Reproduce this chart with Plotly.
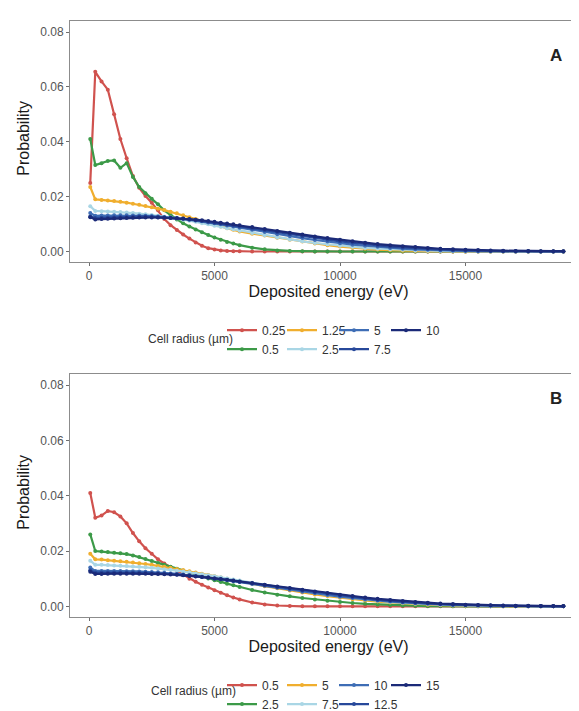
import plotly.graph_objects as go

# ---------------- data ----------------
ENERGY = [50, 250, 500, 750, 1000, 1250, 1500, 1750, 2000, 2250, 2500, 2750, 3000, 3250, 3500,
          3750, 4000, 4250, 4500, 4750, 5000, 5250, 5500, 5750, 6000, 6500, 7000, 7500, 8000,
          8500, 9000, 9500, 10000, 10500, 11000, 11500, 12000, 12500, 13000, 13500, 14000,
          14500, 15000, 15500, 16000, 16500, 17000, 17500, 18000, 18500, 18900]

RADII_A = ["0.25", "0.5", "1.25", "2.5", "5", "7.5", "10"]
RADII_B = ["0.5", "2.5", "5", "7.5", "10", "12.5", "15"]

A_025 = [0.0250, 0.0655, 0.0620, 0.0590, 0.0500, 0.0410, 0.0340, 0.0275, 0.0232, 0.0202,
         0.0178, 0.0150, 0.0118, 0.0096, 0.0078, 0.0062, 0.0047, 0.0033, 0.0021, 0.0012,
         0.0007, 0.0004, 0.0002, 0.0001, 0.0001, 0.0, 0.0, 0.0, 0.0, 0.0,
         0.0, 0.0, 0.0, 0.0, 0.0, 0.0, 0.0, 0.0, 0.0, 0.0,
         0.0, 0.0, 0.0, 0.0, 0.0, 0.0, 0.0, 0.0, 0.0, 0.0, 0.0]
A_05 = [0.0410, 0.0315, 0.0322, 0.0330, 0.0332, 0.0305, 0.0322, 0.0272, 0.0235, 0.0212,
        0.0192, 0.0172, 0.0150, 0.0133, 0.0117, 0.0103, 0.0091, 0.0080, 0.0070, 0.0060,
        0.0051, 0.0043, 0.0035, 0.0029, 0.0023, 0.0014, 0.0008, 0.0004, 0.0002, 0.0001,
        0.0, 0.0, 0.0, 0.0, 0.0, 0.0, 0.0, 0.0, 0.0, 0.0,
        0.0, 0.0, 0.0, 0.0, 0.0, 0.0, 0.0, 0.0, 0.0, 0.0, 0.0]
A_125 = [0.0235, 0.0190, 0.0188, 0.0186, 0.0184, 0.0181, 0.0178, 0.0174, 0.0170, 0.0166,
         0.0161, 0.0156, 0.0151, 0.0145, 0.0139, 0.0132, 0.0125, 0.0118, 0.0111, 0.0104,
         0.0097, 0.0091, 0.0085, 0.0079, 0.0073, 0.0065, 0.0058, 0.0050, 0.0043, 0.0036,
         0.0029, 0.0023, 0.0018, 0.0014, 0.0010, 0.0007, 0.0005, 0.0003, 0.0002, 0.0001,
         0.0001, 0.0, 0.0, 0.0, 0.0, 0.0, 0.0, 0.0, 0.0, 0.0, 0.0]
A_25 = [0.0165, 0.0148, 0.0147, 0.0146, 0.0145, 0.0144, 0.0142, 0.0140, 0.0138, 0.0136,
        0.0133, 0.0130, 0.0127, 0.0124, 0.0120, 0.0116, 0.0112, 0.0108, 0.0103, 0.0099,
        0.0094, 0.0090, 0.0085, 0.0081, 0.0076, 0.0067, 0.0059, 0.0051, 0.0044, 0.0037,
        0.0031, 0.0026, 0.0021, 0.0017, 0.0013, 0.0010, 0.0008, 0.0006, 0.0004, 0.0003,
        0.0002, 0.0001, 0.0001, 0.0, 0.0, 0.0, 0.0, 0.0, 0.0, 0.0, 0.0]
A_5 = [0.0140, 0.0130, 0.0131, 0.0131, 0.0132, 0.0132, 0.0132, 0.0131, 0.0131, 0.0130,
       0.0129, 0.0128, 0.0126, 0.0124, 0.0122, 0.0119, 0.0116, 0.0113, 0.0110, 0.0106,
       0.0103, 0.0099, 0.0095, 0.0091, 0.0087, 0.0079, 0.0071, 0.0063, 0.0056, 0.0049,
       0.0042, 0.0036, 0.0030, 0.0025, 0.0021, 0.0017, 0.0013, 0.0010, 0.0008, 0.0006,
       0.0004, 0.0003, 0.0002, 0.0001, 0.0001, 0.0001, 0.0, 0.0, 0.0, 0.0, 0.0]
A_75 = [0.0128, 0.0122, 0.0123, 0.0124, 0.0125, 0.0126, 0.0126, 0.0127, 0.0127, 0.0127,
        0.0126, 0.0125, 0.0124, 0.0123, 0.0121, 0.0119, 0.0117, 0.0114, 0.0111, 0.0108,
        0.0105, 0.0102, 0.0098, 0.0095, 0.0091, 0.0084, 0.0077, 0.0070, 0.0063, 0.0056,
        0.0049, 0.0043, 0.0037, 0.0032, 0.0027, 0.0022, 0.0018, 0.0015, 0.0012, 0.0009,
        0.0007, 0.0005, 0.0004, 0.0003, 0.0002, 0.0001, 0.0001, 0.0001, 0.0, 0.0, 0.0]
A_10 = [0.0125, 0.0117, 0.0118, 0.0119, 0.0120, 0.0121, 0.0122, 0.0123, 0.0124, 0.0124,
        0.0124, 0.0124, 0.0123, 0.0122, 0.0121, 0.0120, 0.0118, 0.0116, 0.0114, 0.0111,
        0.0108, 0.0105, 0.0102, 0.0099, 0.0096, 0.0089, 0.0082, 0.0075, 0.0068, 0.0062,
        0.0055, 0.0049, 0.0043, 0.0037, 0.0032, 0.0027, 0.0023, 0.0019, 0.0016, 0.0013,
        0.0010, 0.0008, 0.0006, 0.0005, 0.0004, 0.0003, 0.0002, 0.0002, 0.0001, 0.0001, 0.0001]

B_05 = [0.0410, 0.0320, 0.0328, 0.0345, 0.0340, 0.0325, 0.0300, 0.0265, 0.0235, 0.0210,
        0.0190, 0.0170, 0.0155, 0.0142, 0.0128, 0.0113, 0.0100, 0.0089, 0.0078, 0.0068,
        0.0058, 0.0049, 0.0040, 0.0032, 0.0025, 0.0014, 0.0007, 0.0003, 0.0001, 0.0,
        0.0, 0.0, 0.0, 0.0, 0.0, 0.0, 0.0, 0.0, 0.0, 0.0,
        0.0, 0.0, 0.0, 0.0, 0.0, 0.0, 0.0, 0.0, 0.0, 0.0, 0.0]
B_25 = [0.0260, 0.0200, 0.0198, 0.0196, 0.0194, 0.0192, 0.0189, 0.0184, 0.0178, 0.0171,
        0.0164, 0.0157, 0.0150, 0.0143, 0.0136, 0.0129, 0.0122, 0.0115, 0.0108, 0.0101,
        0.0094, 0.0088, 0.0082, 0.0076, 0.0070, 0.0059, 0.0050, 0.0042, 0.0036, 0.0030,
        0.0025, 0.0020, 0.0016, 0.0012, 0.0009, 0.0007, 0.0005, 0.0003, 0.0002, 0.0001,
        0.0001, 0.0, 0.0, 0.0, 0.0, 0.0, 0.0, 0.0, 0.0, 0.0, 0.0]
B_5 = [0.0190, 0.0170, 0.0169, 0.0167, 0.0165, 0.0163, 0.0161, 0.0158, 0.0156, 0.0153,
       0.0150, 0.0146, 0.0143, 0.0139, 0.0135, 0.0131, 0.0127, 0.0122, 0.0118, 0.0113,
       0.0109, 0.0104, 0.0100, 0.0095, 0.0091, 0.0082, 0.0073, 0.0065, 0.0057, 0.0050,
       0.0043, 0.0037, 0.0031, 0.0026, 0.0021, 0.0017, 0.0014, 0.0011, 0.0008, 0.0006,
       0.0004, 0.0003, 0.0002, 0.0001, 0.0001, 0.0, 0.0, 0.0, 0.0, 0.0, 0.0]
B_75 = [0.0165, 0.0150, 0.0150, 0.0149, 0.0148, 0.0147, 0.0146, 0.0144, 0.0143, 0.0141,
        0.0139, 0.0137, 0.0134, 0.0132, 0.0129, 0.0126, 0.0123, 0.0119, 0.0116, 0.0112,
        0.0109, 0.0105, 0.0101, 0.0097, 0.0093, 0.0085, 0.0077, 0.0069, 0.0062, 0.0055,
        0.0048, 0.0041, 0.0035, 0.0030, 0.0025, 0.0020, 0.0016, 0.0013, 0.0010, 0.0008,
        0.0006, 0.0004, 0.0003, 0.0002, 0.0001, 0.0001, 0.0, 0.0, 0.0, 0.0, 0.0]
B_10 = [0.0140, 0.0128, 0.0128, 0.0128, 0.0128, 0.0128, 0.0127, 0.0127, 0.0126, 0.0125,
        0.0124, 0.0123, 0.0121, 0.0119, 0.0117, 0.0115, 0.0113, 0.0110, 0.0107, 0.0104,
        0.0101, 0.0098, 0.0095, 0.0091, 0.0088, 0.0081, 0.0074, 0.0067, 0.0060, 0.0053,
        0.0047, 0.0041, 0.0035, 0.0030, 0.0025, 0.0021, 0.0017, 0.0014, 0.0011, 0.0009,
        0.0007, 0.0005, 0.0004, 0.0003, 0.0002, 0.0001, 0.0001, 0.0, 0.0, 0.0, 0.0]
B_125 = [0.0130, 0.0122, 0.0122, 0.0122, 0.0122, 0.0122, 0.0122, 0.0122, 0.0121, 0.0121,
         0.0120, 0.0119, 0.0118, 0.0117, 0.0115, 0.0113, 0.0111, 0.0109, 0.0106, 0.0104,
         0.0101, 0.0098, 0.0095, 0.0092, 0.0089, 0.0083, 0.0077, 0.0070, 0.0064, 0.0057,
         0.0051, 0.0045, 0.0039, 0.0034, 0.0029, 0.0024, 0.0020, 0.0016, 0.0013, 0.0011,
         0.0008, 0.0006, 0.0005, 0.0004, 0.0003, 0.0002, 0.0001, 0.0001, 0.0001, 0.0, 0.0]
B_15 = [0.0125, 0.0117, 0.0117, 0.0118, 0.0118, 0.0118, 0.0118, 0.0118, 0.0118, 0.0118,
        0.0117, 0.0117, 0.0116, 0.0115, 0.0114, 0.0112, 0.0110, 0.0108, 0.0106, 0.0104,
        0.0101, 0.0099, 0.0096, 0.0093, 0.0090, 0.0084, 0.0078, 0.0072, 0.0066, 0.0060,
        0.0054, 0.0048, 0.0042, 0.0037, 0.0032, 0.0027, 0.0023, 0.0019, 0.0016, 0.0013,
        0.0010, 0.0008, 0.0006, 0.0005, 0.0004, 0.0003, 0.0002, 0.0002, 0.0001, 0.0001, 0.0001]

SERIES_A = [A_025, A_05, A_125, A_25, A_5, A_75, A_10]
SERIES_B = [B_05, B_25, B_5, B_75, B_10, B_125, B_15]

COLORS = ["#D0524E", "#3C9A48", "#F0AE2E", "#A9D6E5", "#3E6DB5", "#27489A", "#1B2A78"]

X_TICKS = [0, 5000, 10000, 15000]
Y_TICKS = [0.00, 0.02, 0.04, 0.06, 0.08]

for s in SERIES_A + SERIES_B:
    assert len(s) == len(ENERGY), len(s)

# ---------------- layout helpers ----------------
W, H = 579, 711
ML = 62
FONT = "Liberation Sans, Arial, sans-serif"


def px_x(p):
    return (p - ML) / (W - ML)


def px_y(p):
    return 1 - p / H


fig = go.Figure()

# legend columns (ggplot-like: 2 rows, filled column-wise)
LEG_COL_X = [214, 274, 326, 378]
panels = [
    (RADII_A, SERIES_A, "x", "y", ["legend", "legend2", "legend3", "legend4"], 313),
    (RADII_B, SERIES_B, "x2", "y2", ["legend5", "legend6", "legend7", "legend8"], 674),
]
for radii, series, xa, ya, legs, _ in panels:
    for i, (r, vals) in enumerate(zip(radii, series)):
        fig.add_trace(go.Scatter(
            x=ENERGY, y=vals, name=r, mode="lines+markers",
            xaxis=xa, yaxis=ya,
            line=dict(color=COLORS[i], width=2.2),
            marker=dict(color=COLORS[i], size=4),
            legend=legs[i // 2],
        ))

axis_common = dict(
    showgrid=False, zeroline=False, showline=True, mirror=True,
    linecolor="#8c8c8c", linewidth=1,
    ticks="outside", ticklen=3, tickcolor="#6e6e6e",
    tickfont=dict(family=FONT, size=12, color="#555555"),
    automargin=False,
)

xr = [-757, 19841]
yr = [-0.0037, 0.0841]
ydomA = [px_y(258), px_y(13)]
ydomB = [px_y(619), px_y(372)]

title_font = dict(family=FONT, size=16, color="#1a1a1a")

fig.update_layout(
    width=W, height=H,
    margin=dict(l=ML, r=0, t=0, b=0),
    paper_bgcolor="white", plot_bgcolor="white",
    showlegend=True,
    font=dict(family=FONT),
    xaxis=dict(domain=[0, 1], anchor="y", range=xr, tickvals=X_TICKS,
               tickformat="d", title=dict(text="Deposited energy (eV)", font=title_font, standoff=1),
               **axis_common),
    yaxis=dict(domain=ydomA, anchor="x", range=yr, tickvals=Y_TICKS, tickformat=".2f",
               **axis_common),
    xaxis2=dict(domain=[0, 1], anchor="y2", range=xr, tickvals=X_TICKS,
                tickformat="d", title=dict(text="Deposited energy (eV)", font=title_font, standoff=1),
                **axis_common),
    yaxis2=dict(domain=ydomB, anchor="x2", range=yr, tickvals=Y_TICKS, tickformat=".2f",
                **axis_common),
)

leg_common = dict(orientation="v", xanchor="left", yanchor="top",
                  font=dict(family=FONT, size=12, color="#333333"),
                  bgcolor="rgba(0,0,0,0)", borderwidth=0, itemwidth=30,
                  tracegroupgap=0)
leg_layout = {}
for _, _, _, _, legs, ytop in panels:
    for k, lg in enumerate(legs):
        leg_layout[lg] = dict(x=px_x(LEG_COL_X[k]), y=px_y(ytop), **leg_common)
fig.update_layout(**leg_layout)

ann_font = dict(family=FONT, size=12, color="#333333")
fig.add_annotation(text="Cell radius (µm)", x=px_x(182), y=px_y(337), xref="paper", yref="paper",
                   showarrow=False, font=ann_font, xanchor="center", yanchor="middle")
fig.add_annotation(text="Cell radius (µm)", x=px_x(185), y=px_y(695), xref="paper", yref="paper",
                   showarrow=False, font=ann_font, xanchor="center", yanchor="middle")
for yc in (133, 493):
    fig.add_annotation(text="Probability", x=px_x(16), y=px_y(yc), xref="paper", yref="paper",
                       showarrow=False, textangle=-90, font=title_font,
                       xanchor="center", yanchor="middle")
fig.add_annotation(text="<b>A</b>", x=px_x(556), y=px_y(37), xref="paper", yref="paper",
                   showarrow=False, font=dict(family=FONT, size=17, color="#222222"))
fig.add_annotation(text="<b>B</b>", x=px_x(556), y=px_y(397), xref="paper", yref="paper",
                   showarrow=False, font=dict(family=FONT, size=17, color="#222222"))

fig.write_html("out.html")
